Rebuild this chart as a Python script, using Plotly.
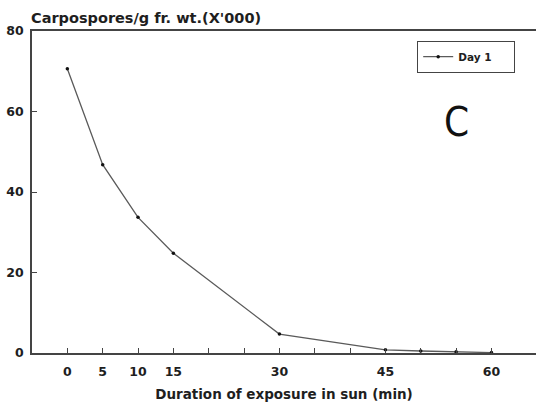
import plotly.graph_objects as go

# Data
duration_min = [0, 5, 10, 15, 30, 45, 50, 55, 60]
carpospores = [70.6, 46.8, 33.7, 24.8, 4.7, 0.8, 0.5, 0.3, 0.1]
series_name = "Day 1"

x_tick_vals = [0, 5, 10, 15, 20, 25, 30, 35, 40, 45, 50, 55, 60]
x_tick_text = ["0", "5", "10", "15", "", "", "30", "", "", "45", "", "", "60"]
y_tick_vals = [0, 20, 40, 60, 80]

FONT = "DejaVu Sans, Arial, Helvetica, sans-serif"
INK = "#1e1e1e"

fig = go.Figure()
fig.add_trace(go.Scatter(
    x=duration_min, y=carpospores, name=series_name,
    mode="lines+markers",
    line=dict(color="#5a5a5a", width=1.3),
    marker=dict(color="#111111", size=3.5),
))

fig.update_layout(
    width=536, height=412,
    margin=dict(l=32, r=0, t=31, b=59),
    paper_bgcolor="white", plot_bgcolor="white",
    font=dict(family=FONT, color=INK, size=12),
    showlegend=True,
    legend=dict(
        x=(417 - 32) / 504, y=(353 - 41) / 322, xanchor="left", yanchor="top",
        orientation="h",
        entrywidth=50, entrywidthmode="pixels",
        bordercolor="#444444", borderwidth=1.2,
        bgcolor="white",
        font=dict(family=FONT, size=10.5, color=INK, weight="bold"),
        itemwidth=30,
    ),
    xaxis=dict(
        range=[-5, 66.3], automargin=False,
        tickmode="array", tickvals=x_tick_vals, ticktext=x_tick_text,
        ticks="inside", ticklen=5, tickwidth=1.2, tickcolor="#444444",
        showline=True, linecolor="#444444", linewidth=1.5, mirror=True,
        showgrid=False, zeroline=False,
        tickfont=dict(family=FONT, size=12.5, color=INK, weight="bold"),
        ticklabelstandoff=6,
        title=dict(text="Duration of exposure in sun (min)",
                   font=dict(family=FONT, size=13.5, color=INK, weight="bold"),
                   standoff=12),
    ),
    yaxis=dict(
        range=[0, 80], automargin=False,
        tickmode="array", tickvals=y_tick_vals,
        ticks="inside", ticklen=5, tickwidth=1.2, tickcolor="#444444",
        showline=True, linecolor="#444444", linewidth=1.5,
        showgrid=False, zeroline=False,
        tickfont=dict(family=FONT, size=12.5, color=INK, weight="bold"),
        ticklabelstandoff=4,
    ),
    annotations=[
        dict(text="Carpospores/g fr. wt.(X'000)", xref="paper", yref="paper",
             x=0.0, y=1.0, xanchor="left", yanchor="bottom", yshift=3, xshift=-3,
             showarrow=False,
             font=dict(family=FONT, size=14.5, color=INK, weight="bold")),
        dict(text="C", xref="paper", yref="paper",
             x=(456 - 32) / 504, y=(353 - 122) / 322, xanchor="center", yanchor="middle",
             showarrow=False,
             font=dict(family="DejaVu Sans Condensed, Liberation Sans Narrow, sans-serif",
                       size=40, color="#111111", weight=500)),
    ],
)

fig.write_html(
    "out.html",
    config={"displayModeBar": False},
    post_script="document.body.style.margin='0';document.body.style.overflow='hidden';",
)
